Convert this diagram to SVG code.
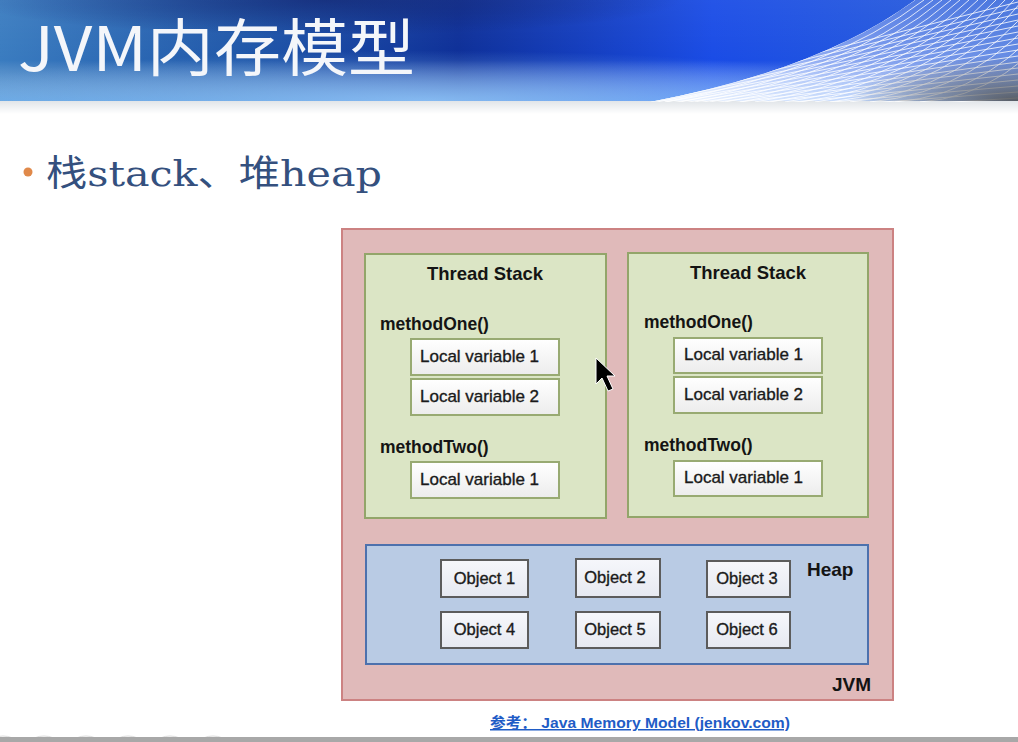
<svg xmlns="http://www.w3.org/2000/svg" width="1018" height="742" viewBox="0 0 1018 742">
  <defs>
    <linearGradient id="bannerBase" x1="0" y1="0" x2="1" y2="0">
      <stop offset="0" stop-color="#3a7cc0"/>
      <stop offset="0.25" stop-color="#1e55a8"/>
      <stop offset="0.45" stop-color="#0d2f98"/>
      <stop offset="0.7" stop-color="#1a4ce6"/>
      <stop offset="1" stop-color="#2a5fd8"/>
    </linearGradient>
    <linearGradient id="bannerShade" x1="0" y1="0" x2="0" y2="1">
      <stop offset="0" stop-color="#ffffff" stop-opacity="0.05"/>
      <stop offset="0.6" stop-color="#ffffff" stop-opacity="0"/>
      <stop offset="1" stop-color="#8cc8ff" stop-opacity="0.55"/>
    </linearGradient>
    <radialGradient id="bannerGlow" cx="0.42" cy="1" r="0.5">
      <stop offset="0" stop-color="#9ad0ff" stop-opacity="0.7"/>
      <stop offset="1" stop-color="#9ad0ff" stop-opacity="0"/>
    </radialGradient>
    <radialGradient id="bannerDark" cx="0.32" cy="0" r="0.35">
      <stop offset="0" stop-color="#061a6a" stop-opacity="0.7"/>
      <stop offset="1" stop-color="#061a6a" stop-opacity="0"/>
    </radialGradient>
    <linearGradient id="meshFill" x1="0" y1="1" x2="1" y2="0">
      <stop offset="0" stop-color="#ffffff" stop-opacity="0.95"/>
      <stop offset="0.35" stop-color="#dce8ff" stop-opacity="0.7"/>
      <stop offset="1" stop-color="#7f9ce6" stop-opacity="0.3"/>
    </linearGradient>
    <radialGradient id="meshGrey" cx="1" cy="1" r="0.45">
      <stop offset="0" stop-color="#4a4a4a" stop-opacity="0.85"/>
      <stop offset="1" stop-color="#4a4a4a" stop-opacity="0"/>
    </radialGradient>
    <clipPath id="meshClip">
      <path d="M650,102 Q820,70 915,0 L1018,0 L1018,102 Z"/>
    </clipPath>
    <linearGradient id="underBanner" x1="0" y1="0" x2="0" y2="1">
      <stop offset="0" stop-color="#dfe3e7"/>
      <stop offset="1" stop-color="#ffffff"/>
    </linearGradient>
    <linearGradient id="cellFill" x1="0" y1="0" x2="0" y2="1">
      <stop offset="0" stop-color="#ffffff"/>
      <stop offset="1" stop-color="#ececec"/>
    </linearGradient>
    <linearGradient id="objFill" x1="0" y1="0" x2="0" y2="1">
      <stop offset="0" stop-color="#f6f7fb"/>
      <stop offset="1" stop-color="#e6e9f1"/>
    </linearGradient>
  </defs>
  <style>
    .jvm { fill: #e0baba; stroke: #cc8282; stroke-width: 2; }
    .stack { fill: #dbe5c5; stroke: #93a56a; stroke-width: 2; }
    .heap { fill: #b9cbe4; stroke: #4d71ad; stroke-width: 2; }
    .cell { fill: url(#cellFill); stroke: #98aa72; stroke-width: 2; }
    .obj { fill: url(#objFill); stroke: #5c5c5c; stroke-width: 2; }
    .h { font-family: "Liberation Sans", Arial, sans-serif; font-weight: bold; fill: #141414; }
    .t { font-family: "Liberation Sans", Arial, sans-serif; fill: #1a1a1a; stroke: #1a1a1a; stroke-width: 0.35; }
    .mesh { fill: none; stroke: #ffffff; stroke-width: 1; stroke-opacity: 0.8; }
  </style>

  <!-- slide background -->
  <rect x="0" y="0" width="1018" height="742" fill="#ffffff"/>
  <rect x="0" y="100" width="1018" height="14" fill="url(#underBanner)"/>

  <!-- title banner -->
  <g id="banner">
    <rect x="0" y="0" width="1018" height="101" fill="url(#bannerBase)"/>
    <rect x="0" y="0" width="1018" height="101" fill="url(#bannerDark)"/>
    <rect x="0" y="0" width="1018" height="101" fill="url(#bannerShade)"/>
    <rect x="0" y="0" width="1018" height="101" fill="url(#bannerGlow)"/>
    <g clip-path="url(#meshClip)">
      <rect x="640" y="0" width="378" height="101" fill="url(#meshFill)"/>
      <!-- curved strands following the wave edge -->
      <path class="mesh" d="M650,102 Q820,70 915,0"/>
      <path class="mesh" d="M665,102 Q831,71 924,0"/>
      <path class="mesh" d="M680,102 Q842,73 933,0"/>
      <path class="mesh" d="M695,102 Q853,74 942,0"/>
      <path class="mesh" d="M710,102 Q864,76 951,0"/>
      <path class="mesh" d="M725,102 Q875,77 960,0"/>
      <path class="mesh" d="M740,102 Q886,79 969,0"/>
      <path class="mesh" d="M755,102 Q897,80 978,0"/>
      <path class="mesh" d="M770,102 Q908,82 987,0"/>
      <path class="mesh" d="M785,102 Q919,83 996,0"/>
      <path class="mesh" d="M800,102 Q930,85 1005,0"/>
      <path class="mesh" d="M815,102 Q941,86 1014,0"/>
      <path class="mesh" d="M830,102 Q952,88 1023,0"/>
      <path class="mesh" d="M850,102 Q966,90 1036,0"/>
      <path class="mesh" d="M870,102 Q980,92 1049,0"/>
      <path class="mesh" d="M895,102 Q996,94 1062,0"/>
      <path class="mesh" d="M920,102 Q1012,96 1075,0"/>
      <!-- near-horizontal strands -->
      <path class="mesh" d="M600,108 L1018,2"/>
      <path class="mesh" d="M600,109 L1018,8"/>
      <path class="mesh" d="M600,110 L1018,14"/>
      <path class="mesh" d="M600,111 L1018,20"/>
      <path class="mesh" d="M600,112 L1018,26"/>
      <path class="mesh" d="M600,113 L1018,32"/>
      <path class="mesh" d="M600,114 L1018,38"/>
      <path class="mesh" d="M600,115 L1018,44"/>
      <path class="mesh" d="M600,116 L1018,50"/>
      <path class="mesh" d="M600,117 L1018,56"/>
      <path class="mesh" d="M600,118 L1018,62"/>
      <path class="mesh" d="M600,119 L1018,68"/>
      <path class="mesh" d="M600,120 L1018,74"/>
      <path class="mesh" d="M600,121 L1018,80"/>
      <path class="mesh" d="M600,122 L1018,86"/>
      <path class="mesh" d="M600,123 L1018,92"/>
      <path class="mesh" d="M600,124 L1018,98"/>
      <rect x="640" y="0" width="378" height="101" fill="url(#meshGrey)"/>
    </g>
    <text x="18" y="71" fill="#f4f6fa" font-family="'Noto Sans CJK SC', 'Noto Sans', sans-serif" font-size="62" textLength="397" lengthAdjust="spacingAndGlyphs">JVM内存模型</text>
  </g>

  <!-- bullet line -->
  <g id="bullet">
    <circle cx="28" cy="172" r="4.5" fill="#e0894a"/>
    <text x="46" y="186" fill="#34507e" font-family="'DejaVu Serif', 'Noto Sans CJK SC', serif" font-size="36" textLength="336" lengthAdjust="spacingAndGlyphs">栈stack、堆heap</text>
  </g>

  <!-- JVM container -->
  <g id="jvm">
    <rect class="jvm" x="342" y="229" width="551" height="471"/>
    <text class="h" x="832" y="691" font-size="19">JVM</text>
  </g>

  <!-- thread stack 1 -->
  <g id="thread-stack-1">
    <rect class="stack" x="365" y="254" width="241" height="264"/>
    <text class="h" x="485" y="280" font-size="18.5" text-anchor="middle">Thread Stack</text>
    <text class="h" x="380" y="330" font-size="17.5">methodOne()</text>
    <rect class="cell" x="411" y="339" width="148" height="36"/>
    <text class="t" x="420" y="362" font-size="17">Local variable 1</text>
    <rect class="cell" x="411" y="379" width="148" height="36"/>
    <text class="t" x="420" y="402" font-size="17">Local variable 2</text>
    <text class="h" x="380" y="453" font-size="17.5">methodTwo()</text>
    <rect class="cell" x="411" y="462" width="148" height="36"/>
    <text class="t" x="420" y="485" font-size="17">Local variable 1</text>
  </g>

  <!-- thread stack 2 -->
  <g id="thread-stack-2">
    <rect class="stack" x="628" y="253" width="240" height="264"/>
    <text class="h" x="748" y="279" font-size="18.5" text-anchor="middle">Thread Stack</text>
    <text class="h" x="644" y="328" font-size="17.5">methodOne()</text>
    <rect class="cell" x="674" y="338" width="148" height="35"/>
    <text class="t" x="684" y="360" font-size="17">Local variable 1</text>
    <rect class="cell" x="674" y="377" width="148" height="36"/>
    <text class="t" x="684" y="400" font-size="17">Local variable 2</text>
    <text class="h" x="644" y="451" font-size="17.5">methodTwo()</text>
    <rect class="cell" x="674" y="461" width="148" height="35"/>
    <text class="t" x="684" y="483" font-size="17">Local variable 1</text>
  </g>

  <!-- heap -->
  <g id="heap">
    <rect class="heap" x="366" y="545" width="502" height="119"/>
    <text class="h" x="807" y="576" font-size="19">Heap</text>
  </g>
  <g id="object-1"><rect class="obj" x="441" y="560" width="87" height="37"/><text class="t" x="484.5" y="584" font-size="16.5" text-anchor="middle">Object 1</text></g>
  <g id="object-2"><rect class="obj" x="576" y="559" width="84" height="38"/><text class="t" x="615" y="583" font-size="16.5" text-anchor="middle">Object 2</text></g>
  <g id="object-3"><rect class="obj" x="707" y="561" width="83" height="36"/><text class="t" x="747" y="584" font-size="16.5" text-anchor="middle">Object 3</text></g>
  <g id="object-4"><rect class="obj" x="441" y="612" width="87" height="36"/><text class="t" x="484.5" y="635" font-size="16.5" text-anchor="middle">Object 4</text></g>
  <g id="object-5"><rect class="obj" x="576" y="612" width="84" height="36"/><text class="t" x="615" y="635" font-size="16.5" text-anchor="middle">Object 5</text></g>
  <g id="object-6"><rect class="obj" x="707" y="612" width="83" height="36"/><text class="t" x="747" y="635" font-size="16.5" text-anchor="middle">Object 6</text></g>

  <g id="connectors"/>

  <!-- mouse pointer -->
  <path d="M596,358 L596,384 L602,378 L608,391 L613,389 L607,376 L615,376 Z" fill="#000000" stroke="#ffffff" stroke-width="1"/>

  <!-- source reference -->
  <text x="490" y="728" fill="#1f5cc6" font-family="'Liberation Sans', 'Noto Sans CJK SC', sans-serif" font-weight="bold" font-size="15" text-decoration="underline" textLength="300" lengthAdjust="spacingAndGlyphs">参考： Java Memory Model (jenkov.com)</text>

  <!-- bottom strip -->
  <g fill="none" stroke="#dcdcdc" stroke-width="1">
    <circle cx="3" cy="760" r="24"/>
    <circle cx="44" cy="760" r="24"/>
    <circle cx="86" cy="760" r="24"/>
    <circle cx="128" cy="760" r="24"/>
    <circle cx="170" cy="760" r="24"/>
    <circle cx="213" cy="760" r="24"/>
  </g>
  <rect x="0" y="737" width="1018" height="5" fill="#a8a8a8"/>
</svg>
